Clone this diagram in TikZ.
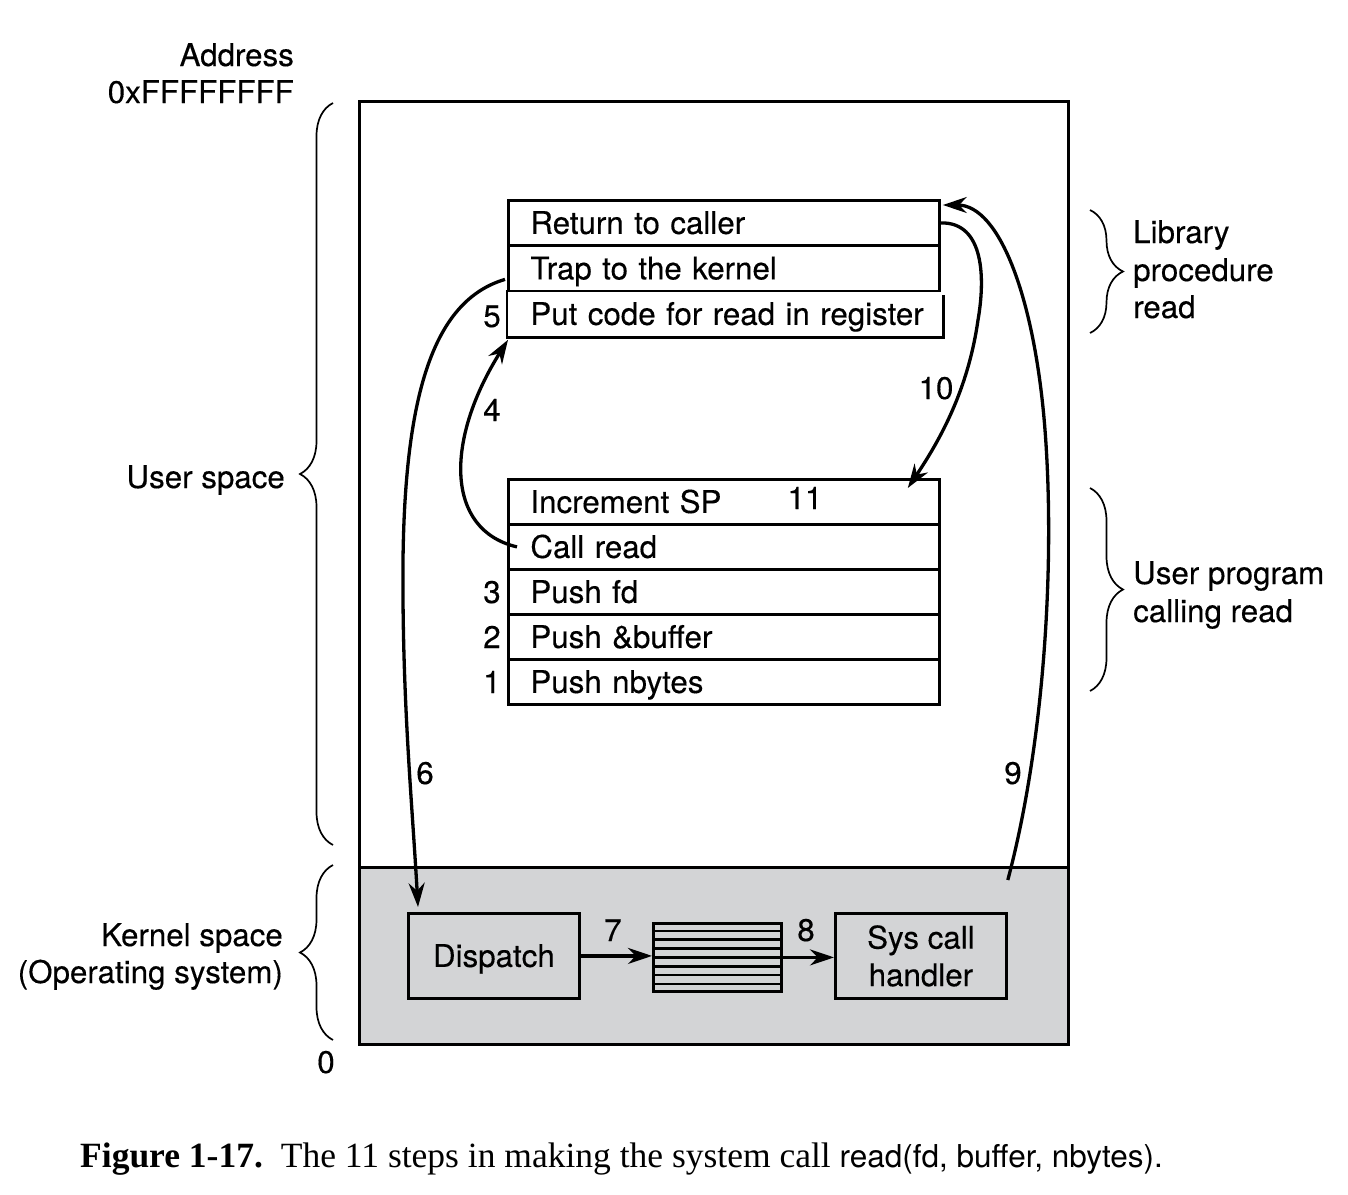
\documentclass[tikz,border=0pt]{standalone}
\usepackage{fontspec}
\usetikzlibrary{arrows.meta,decorations.pathreplacing,calc}
\newfontfamily\heros[FakeBold=0.3]{TeX Gyre Heros}
\newfontfamily\herosreg{TeX Gyre Heros}
\newfontfamily\capserif{Liberation Serif}
\newcommand\diagfont{\heros\fontsize{31.3pt}{37.5pt}\selectfont}
\definecolor{kgray}{RGB}{211,212,214}
\begin{document}
\begin{tikzpicture}[x=1pt,y=-1pt,
  lbl/.style={font=\diagfont, inner sep=0pt},
  row/.style={draw, line width=2.8pt, minimum width=431pt, minimum height=45pt,
    text width=387pt, inner xsep=22pt, inner ysep=0pt, align=left,
    text height=22pt, text depth=0pt, anchor=north west, font=\diagfont},
  kbox/.style={draw, line width=2.8pt, minimum width=171pt, minimum height=85pt,
    anchor=north west, font=\diagfont, align=center, inner sep=0pt},
  arr/.style={line width=3.3pt, -{Stealth[length=24pt,width=16pt]}},
  brc/.style={decorate, decoration={brace, amplitude=33pt}, line width=1.7pt}]
\useasboundingbox (0,0) rectangle (1348,1194);

% memory areas
\node[draw, line width=2.8pt, minimum width=709pt, minimum height=766pt, anchor=north west, inner sep=0pt] (user) at (358,100) {};
\node[draw, fill=kgray, line width=2.8pt, minimum width=709pt, minimum height=177pt, anchor=north west, inner sep=0pt] (kern) at (358,866) {};

% library procedure
\node[row] (ret) at (507,199) {\mbox{Return to caller}};
\node[row] (trap) at (507,244.5) {\mbox{Trap to the kernel}};
\node[row, draw=none, minimum width=434pt, text width=390pt] (put) at (507,290) {\mbox{Put code for read in register}};
\draw[line width=2.8pt] ([shift={(0,5)}]put.north east) -- (put.south east) -- (put.south west) -- (put.north west);

% user program
\node[row] (inc) at (507,478) {\mbox{Increment SP}};
\node[row] (call) at (507,523) {\mbox{Call read}};
\node[row] (pfd) at (507,568) {\mbox{Push fd}};
\node[row] (pbuf) at (507,613) {\mbox{Push \&buffer}};
\node[row] (pnb) at (507,658) {\mbox{Push nbytes}};

% kernel
\node[kbox, text height=22pt, text depth=0pt] (disp) at (407,912) {Dispatch};
\node[kbox] (sys) at (834,912) {Sys call\\handler};
\node[draw, line width=2.8pt, minimum width=128pt, minimum height=68pt, anchor=north west, inner sep=0pt] (tbl) at (652,922) {};
\foreach \i in {1,...,7}
  \draw[line width=2.6pt] ($(tbl.north west)!\i/8!(tbl.south west)$) -- ($(tbl.north east)!\i/8!(tbl.south east)$);

% labels
\node[lbl, anchor=base east] (addr) at (294,66) {Address};
\node[lbl, anchor=base east] (addrval) at (294,103) {0xFFFFFFFF};
\node[lbl, anchor=base east] (uspace) at (285,488) {User space};
\node[lbl, anchor=base east] (kspace) at (283,946) {Kernel space};
\node[lbl, anchor=base east] (opsys) at (283,983) {(Operating system)};
\node[lbl, anchor=base] (zero) at (326,1073) {0};
\node[lbl, anchor=base west] (lib1) at (1133,243) {Library};
\node[lbl, anchor=base west] (lib2) at (1133,281) {procedure};
\node[lbl, anchor=base west] (lib3) at (1133,318) {read};
\node[lbl, anchor=base west] (up1) at (1133,584) {User program};
\node[lbl, anchor=base west] (up2) at (1133,622) {calling read};

% braces
\draw[brc] (333,845) -- (333,103);
\draw[brc] (333,1040) -- (333,865);
\draw[brc] (1090,210) -- (1090,333);
\draw[brc] (1090,488) -- (1090,691);

% step numbers
\node[lbl, anchor=base] (n5) at (492,327) {5};
\node[lbl, anchor=base] (n4) at (492,421) {4};
\node[lbl, anchor=base] (n3) at (492,603) {3};
\node[lbl, anchor=base] (n2) at (492,648) {2};
\node[lbl, anchor=base] (n1) at (492,693) {1};
\node[lbl, anchor=base] (n11) at (805,509) {11};
\node[lbl, anchor=base] (n10) at (936,399) {10};
\node[lbl, anchor=base] (n6) at (425,784) {6};
\node[lbl, anchor=base] (n9) at (1013,784) {9};
\node[lbl, anchor=base] (n7) at (613,941) {7};
\node[lbl, anchor=base] (n8) at (806,941) {8};

% arrows
\draw[arr] ([shift={(10,0)}]call.west) .. controls (445,530) and (445,440) .. ([shift={(1,2)}]put.south west);
\draw[arr] ([shift={(-2,11)}]trap.west) .. controls (435,300) and (405,390) .. (403,560) .. controls (402,700) and (412,800) .. ([shift={(11,-5)}]disp.north west);
\draw[arr] ([shift={(0,-32)}]sys.north east) .. controls (1045,740) and (1055,560) .. (1045,430) .. controls (1035,300) and (1000,205) .. ([shift={(2,6)}]ret.north east);
\draw[arr] (ret.east) .. controls (985,222) and (985,280) .. (978,320) .. controls (968,390) and (940,440) .. ([shift={(-33,10)}]inc.north east);
\draw[arr] (disp.east) -- (disp.east -| tbl.west);
\draw[arr] (tbl.east) -- (tbl.east -| sys.west);

% caption
\node[anchor=base west, inner sep=0pt] (cap) at (80,1167) {{\capserif\fontsize{35.5pt}{40pt}\selectfont\bfseries Figure 1-17.}\hspace{18pt}{\capserif\fontsize{35.5pt}{40pt}\selectfont The 11 steps in making the system call\ }{\herosreg\fontsize{31.5pt}{38pt}\selectfont read(fd, buffer, nbytes).}};
\end{tikzpicture}
\end{document}
